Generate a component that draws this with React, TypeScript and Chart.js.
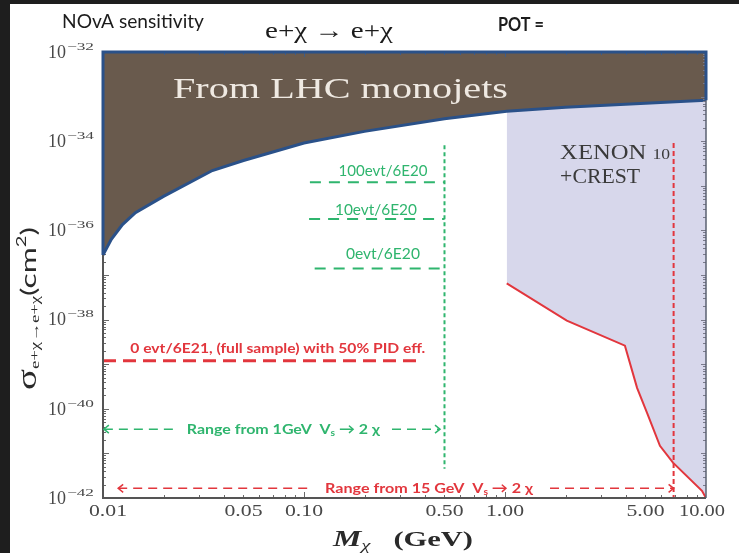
import { useEffect, useRef } from "react";
import { Chart, registerables } from "chart.js";

Chart.register(...registerables);

const WIDTH = 739;
const HEIGHT = 553;

// LHC monojet exclusion: everything above this boundary is excluded (mass in GeV, sigma in cm^2)
const lhcMass = [0.01, 0.011, 0.0125, 0.0145, 0.02, 0.035, 0.05, 0.1, 0.2, 0.5, 1.02, 2, 5, 10];
const lhcSigma = [2.8e-37, 6.3e-37, 1.35e-36, 2.5e-36, 5.8e-36, 2.2e-35, 3.7e-35, 9.1e-35, 1.66e-34, 3.2e-34, 4.7e-34, 5.8e-34, 7.1e-34, 8.3e-34];

// XENON10 + CREST exclusion, lower edge
const xenonMass = [1.02, 2.03, 3.95, 4.54, 5.09, 5.9, 6.85, 9.55, 10];
const xenonSigma = [6.5e-38, 9.5e-39, 2.6e-39, 2.95e-40, 8.1e-41, 1.48e-41, 6.2e-42, 1.45e-42, 1.0e-42];

// NOvA sensitivity levels for 6E20 POT
const sensLabels = ["100evt/6E20", "10evt/6E20", "0evt/6E20"];
const sensSigma = [1.2e-35, 1.8e-36, 1.4e-37];
const sensMassStart = [0.107, 0.106, 0.113];
const sensMassEnd = [0.5, 0.5, 0.5];
const sensLabelMass = [0.247, 0.228, 0.247];
const sensLabelSigma = [2.1e-35, 2.8e-36, 2.9e-37];

// Full 6E21 sample with 50% PID efficiency
const fullLabel = "0 evt/6E21, (full sample) with 50% PID eff.";
const fullSigma = 1.2e-39;
const fullMass = [0.01, 0.378];
const fullLabelMass = 0.0741;
const fullLabelSigma = 2.3e-39;

// Kinematic reach: 1 GeV scalar decays
const reach1Mass = 0.5;
const reach1SigmaSpan = [8.1e-35, 4.5e-42];
const reach1ArrowSigma = 3.5e-41;
const reach1ArrowLeft = [0.0101, 0.0228];
const reach1ArrowRight = [0.274, 0.475];
const reach1LabelMass = 0.0789;

// Kinematic reach: 15 GeV scalar decays
const reach15Mass = 6.9;
const reach15SigmaSpan = [9.1e-35, 1.0e-42];
const reach15ArrowSigma = 1.65e-42;
const reach15ArrowLeft = [0.0119, 0.1084];
const reach15ArrowRight = [1.675, 6.9];
const reach15LabelMass = 0.419;

// Axis ticks
const xTickValues = [0.01, 0.05, 0.1, 0.5, 1, 5, 10];
const xTickLabels = ["0.01", "0.05", "0.10", "0.50", "1.00", "5.00", "10.00"];
const yTickExps = [-32, -34, -36, -38, -40, -42];

// Region labels
const lhcLabel = "From LHC monojets";
const lhcLabelMass = 0.0223;
const lhcLabelSigma = 1.4e-33;
const xenonLabelMass = 1.88;
const xenonLabelSigma = [5.4e-35, 1.5e-35];

const GREEN = "#2fb56e";
const RED = "#e2363d";
const BROWN = "#695a4d";
const LAVENDER = "#d7d7eb";
const BLUE = "#2a5189";
const SANS = "Lato, 'Open Sans', sans-serif";
const SERIF = "'Liberation Serif', 'DejaVu Serif', serif";

type Run = { text: string; font: string; dy?: number; color?: string };

function drawRuns(ctx: CanvasRenderingContext2D, runs: Run[], x: number, y: number, color: string, align: "left" | "center" | "right" = "left", width?: number) {
  ctx.save();
  ctx.textAlign = "left";
  ctx.textBaseline = "middle";
  let natural = 0;
  const widths = runs.map((r) => {
    ctx.font = r.font;
    const w = ctx.measureText(r.text).width;
    natural += w;
    return w;
  });
  const sx = width ? width / natural : 1;
  const total = natural * sx;
  const x0 = align === "center" ? x - total / 2 : align === "right" ? x - total : x;
  ctx.translate(x0, y);
  ctx.scale(sx, 1);
  let cx = 0;
  runs.forEach((r, i) => {
    ctx.font = r.font;
    ctx.fillStyle = r.color ?? color;
    ctx.fillText(r.text, cx, r.dy ?? 0);
    cx += widths[i];
  });
  ctx.restore();
}

function text(ctx: CanvasRenderingContext2D, s: string, font: string, color: string, x: number, y: number, align: "left" | "center" | "right" = "left", width?: number) {
  drawRuns(ctx, [{ text: s, font }], x, y, color, align, width);
}

function chevron(ctx: CanvasRenderingContext2D, x: number, y: number, dir: number, color: string) {
  ctx.save();
  ctx.strokeStyle = color;
  ctx.lineWidth = 1.5;
  ctx.setLineDash([]);
  ctx.beginPath();
  ctx.moveTo(x - dir * 5, y - 4);
  ctx.lineTo(x, y);
  ctx.lineTo(x - dir * 5, y + 4);
  ctx.stroke();
  ctx.restore();
}

const pts = (xs: number[], ys: number[]) => xs.map((x, i) => ({ x, y: ys[i] }));

function dashed(data: { x: number; y: number }[], color: string, width: number, dash: number[]) {
  return {
    data,
    borderColor: color,
    borderWidth: width,
    borderDash: dash,
    borderCapStyle: "butt" as const,
    fill: false,
    pointRadius: 0,
    order: 0,
  };
}

const decor = {
  id: "decor",
  beforeDraw(chart: any) {
    const ctx = chart.ctx as CanvasRenderingContext2D;
    ctx.save();
    ctx.fillStyle = "#ffffff";
    ctx.fillRect(0, 0, WIDTH, HEIGHT);
    ctx.fillStyle = "#1e1e1e";
    ctx.fillRect(0, 0, 10, HEIGHT);
    ctx.fillRect(0, 0, WIDTH, 4);
    ctx.restore();
  },
  beforeDatasetsDraw(chart: any) {
    const ctx = chart.ctx as CanvasRenderingContext2D;
    const { left, bottom } = chart.chartArea;
    const xs = chart.scales.x;
    const ys = chart.scales.y;
    ctx.save();
    ctx.strokeStyle = "#6a6a6a";
    ctx.lineWidth = 1;
    for (let e = -2; e <= 0; e++) {
      for (let k = 1; k <= 9; k++) {
        const px = Math.round(xs.getPixelForValue(k * Math.pow(10, e))) + 0.5;
        const len = k === 1 ? 6 : 3;
        ctx.beginPath();
        ctx.moveTo(px, bottom);
        ctx.lineTo(px, bottom - len);
        ctx.stroke();
      }
    }
    for (let e = -42; e < -32; e++) {
      for (let k = 1; k <= 9; k++) {
        const py = Math.round(ys.getPixelForValue(k * Math.pow(10, e))) + 0.5;
        const len = k === 1 ? 6 : 3;
        ctx.beginPath();
        ctx.moveTo(left, py);
        ctx.lineTo(left + len, py);
        ctx.stroke();
      }
    }
    ctx.restore();
  },
  afterDatasetsDraw(chart: any) {
    const ctx = chart.ctx as CanvasRenderingContext2D;
    const { left, right, top, bottom } = chart.chartArea;
    const xs = chart.scales.x;
    const ys = chart.scales.y;
    const X = (v: number) => xs.getPixelForValue(v);
    const Y = (v: number) => ys.getPixelForValue(v);

    // right-axis ticks over the shaded regions
    ctx.save();
    ctx.strokeStyle = "#7a7a8a";
    ctx.lineWidth = 1;
    for (let e = -42; e < -32; e++) {
      for (let k = 1; k <= 9; k++) {
        const py = Math.round(Y(k * Math.pow(10, e))) + 0.5;
        const len = k === 1 ? 5 : 3;
        ctx.beginPath();
        ctx.moveTo(right, py);
        ctx.lineTo(right - len, py);
        ctx.stroke();
      }
    }
    ctx.strokeStyle = "#3d5c88";
    for (let e = -2; e <= 0; e++) {
      for (let k = 1; k <= 9; k++) {
        const px = Math.round(X(k * Math.pow(10, e))) + 0.5;
        ctx.beginPath();
        ctx.moveTo(px, top);
        ctx.lineTo(px, top + (k === 1 ? 5 : 3));
        ctx.stroke();
      }
    }

    // frame
    ctx.lineCap = "butt";
    ctx.strokeStyle = "#555555";
    ctx.lineWidth = 2;
    ctx.beginPath();
    ctx.moveTo(left, top);
    ctx.lineTo(left, bottom);
    ctx.lineTo(right, bottom);
    ctx.stroke();
    ctx.strokeStyle = "#5a6070";
    ctx.lineWidth = 1.5;
    ctx.beginPath();
    ctx.moveTo(right, top);
    ctx.lineTo(right, bottom);
    ctx.stroke();
    ctx.strokeStyle = BLUE;
    ctx.lineWidth = 3;
    ctx.beginPath();
    ctx.moveTo(left, Y(lhcSigma[0]));
    ctx.lineTo(left, top);
    ctx.lineTo(right, top);
    ctx.lineTo(right, Y(lhcSigma[lhcSigma.length - 1]));
    ctx.stroke();
    ctx.restore();

    // arrow heads
    chevron(ctx, X(reach1ArrowLeft[0]), Y(reach1ArrowSigma), -1, GREEN);
    chevron(ctx, X(reach1ArrowRight[1]), Y(reach1ArrowSigma), 1, GREEN);
    chevron(ctx, X(reach15ArrowLeft[0]), Y(reach15ArrowSigma), -1, RED);
    chevron(ctx, X(reach15ArrowRight[1]), Y(reach15ArrowSigma), 1, RED);

    // region labels
    text(ctx, lhcLabel, `30px ${SERIF}`, "#efe9e2", X(lhcLabelMass), Y(lhcLabelSigma), "left", 335);
    drawRuns(ctx, [
      { text: "XENON ", font: `21px ${SERIF}` },
      { text: "10", font: `15px ${SERIF}`, dy: 2 },
    ], X(xenonLabelMass), Y(xenonLabelSigma[0]), "#3a3a3a", "left", 110);
    text(ctx, "+CREST", `21px ${SERIF}`, "#3a3a3a", X(xenonLabelMass), Y(xenonLabelSigma[1]), "left", 80);

    // sensitivity labels
    sensLabels.forEach((s, i) => {
      text(ctx, s, `15px ${SANS}`, GREEN, X(sensLabelMass[i]), Y(sensLabelSigma[i]), "center", i === 0 ? 89 : i === 1 ? 82 : 74);
    });
    text(ctx, fullLabel, `bold 14px ${SANS}`, RED, X(fullLabelMass), Y(fullLabelSigma), "center", 295);

    drawRuns(ctx, [
      { text: "Range from 1GeV  V", font: `bold 14px ${SANS}` },
      { text: "s", font: `bold 9px ${SANS}`, dy: 4 },
      { text: " \u2192 2 \u03c7", font: `bold 14px ${SANS}` },
    ], X(reach1LabelMass), Y(reach1ArrowSigma), GREEN, "center", 193);
    drawRuns(ctx, [
      { text: "Range from 15 GeV  V", font: `bold 14px ${SANS}` },
      { text: "s", font: `bold 9px ${SANS}`, dy: 4 },
      { text: " \u2192 2 \u03c7", font: `bold 14px ${SANS}` },
    ], X(reach15LabelMass), Y(reach15ArrowSigma), RED, "center", 208);

    // tick labels
    xTickValues.forEach((v, i) => {
      const shift = i === 0 ? 5 : i === xTickValues.length - 1 ? -4 : 0;
      text(ctx, xTickLabels[i], `16px ${SERIF}`, "#484848", X(v) + shift, bottom + 14, "center", i === xTickValues.length - 1 ? 46 : 38);
    });
    yTickExps.forEach((e) => {
      const py = Y(Math.pow(10, e));
      text(ctx, "10", `18px ${SERIF}`, "#484848", 48, py + 1, "left", 18);
      text(ctx, "\u2212" + String(-e), `11px ${SERIF}`, "#484848", 67, py - 5, "left", 27);
    });

    // titles
    text(ctx, "NOvA sensitivity", `20px ${SANS}`, "#1c1c1c", 62, 22, "left", 142);
    text(ctx, "e+\u03c7 \u2192 e+\u03c7", `24px ${SERIF}`, "#1c1c1c", 265, 32, "left", 128);
    text(ctx, "POT =", `bold 18px ${SANS}`, "#1c1c1c", 498, 25, "left", 46);

    // x-axis title
    drawRuns(ctx, [
      { text: "M", font: `italic bold 23px ${SERIF}` },
      { text: "\u03c7", font: `italic 15px ${SERIF}`, dy: 6 },
      { text: "   (GeV)", font: `bold 22px ${SERIF}` },
    ], 333, 540, "#2a2a2a", "left", 140);

    // y-axis title (rotated)
    ctx.save();
    ctx.translate(29, 390);
    ctx.rotate(-Math.PI / 2);
    drawRuns(ctx, [
      { text: "\u03c3", font: `27px ${SERIF}` },
      { text: "e+\u03c7\u2192e+\u03c7", font: `13px ${SERIF}`, dy: 7 },
      { text: "(cm", font: `22px ${SANS}` },
      { text: "2", font: `14px ${SANS}`, dy: -8 },
      { text: ")", font: `22px ${SANS}` },
    ], 0, 0, "#2a2a2a", "left", 163);
    ctx.restore();
  },
};

export default function App() {
  const ref = useRef<HTMLCanvasElement>(null);

  useEffect(() => {
    const canvas = ref.current;
    if (!canvas) return;

    const datasets: any[] = [
      // sensitivity lines
      ...sensSigma.map((s, i) =>
        dashed([{ x: sensMassStart[i], y: s }, { x: sensMassEnd[i], y: s }], GREEN, 2, [11, 8])
      ),
      dashed(pts([reach1Mass, reach1Mass], reach1SigmaSpan), GREEN, 2, [4, 3]),
      dashed(pts(fullMass, [fullSigma, fullSigma]), RED, 3, [13, 7]),
      dashed(pts(reach1ArrowLeft, [reach1ArrowSigma, reach1ArrowSigma]), GREEN, 1.5, [9, 6]),
      dashed(pts(reach1ArrowRight, [reach1ArrowSigma, reach1ArrowSigma]), GREEN, 1.5, [9, 6]),
      dashed(pts(reach15ArrowLeft, [reach15ArrowSigma, reach15ArrowSigma]), RED, 1.5, [9, 6]),
      dashed(pts(reach15ArrowRight, [reach15ArrowSigma, reach15ArrowSigma]), RED, 1.5, [9, 6]),
      dashed(pts([reach15Mass, reach15Mass], reach15SigmaSpan), RED, 2, [5, 3]),
      // LHC monojets region
      {
        data: pts(lhcMass, lhcSigma),
        borderColor: BLUE,
        borderWidth: 3,
        backgroundColor: BROWN,
        fill: "end",
        pointRadius: 0,
        order: 2,
      },
      // XENON10 + CREST region
      {
        data: pts(xenonMass, xenonSigma),
        borderColor: RED,
        borderWidth: 2,
        backgroundColor: LAVENDER,
        fill: "end",
        pointRadius: 0,
        order: 3,
      },
    ];

    const chart = new Chart(canvas, {
      type: "line",
      data: { datasets },
      options: {
        animation: false,
        responsive: false,
        devicePixelRatio: 1,
        layout: { padding: { left: 10, top: 52, right: 33, bottom: 0 } },
        elements: { line: { tension: 0 }, point: { radius: 0 } },
        plugins: {
          legend: { display: false },
          tooltip: { enabled: false },
          title: { display: false },
        },
        scales: {
          x: {
            type: "logarithmic",
            min: 0.01,
            max: 10,
            ticks: { display: false },
            grid: { display: false },
            border: { display: false },
            afterFit: (s: any) => {
              s.height = 55;
            },
          },
          y: {
            type: "logarithmic",
            min: 1e-42,
            max: 1e-32,
            ticks: { display: false },
            grid: { display: false },
            border: { display: false },
            afterFit: (s: any) => {
              s.width = 93;
            },
          },
        },
      } as any,
      plugins: [decor],
    });

    return () => chart.destroy();
  }, []);

  return (
    <div style={{ position: "absolute", left: 0, top: 0, width: WIDTH, height: HEIGHT }}>
      <canvas ref={ref} width={WIDTH} height={HEIGHT} style={{ display: "block", width: WIDTH, height: HEIGHT }} />
    </div>
  );
}
